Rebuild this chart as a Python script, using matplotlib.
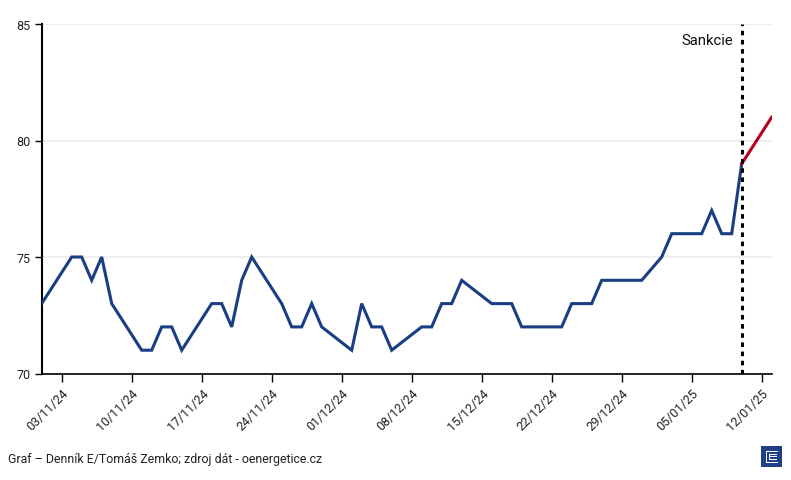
import matplotlib
matplotlib.use('Agg')
import matplotlib.pyplot as plt
import matplotlib.dates as mdates
import pandas as pd
from matplotlib.patches import Rectangle

plt.rcParams['font.family'] = ['Roboto', 'DejaVu Sans']

dates = ['2024-11-01', '2024-11-04', '2024-11-05', '2024-11-06', '2024-11-07', '2024-11-08',
         '2024-11-11', '2024-11-12', '2024-11-13', '2024-11-14', '2024-11-15',
         '2024-11-18', '2024-11-19', '2024-11-20', '2024-11-21', '2024-11-22',
         '2024-11-25', '2024-11-26', '2024-11-27', '2024-11-28', '2024-11-29',
         '2024-12-02', '2024-12-03', '2024-12-04', '2024-12-05', '2024-12-06',
         '2024-12-09', '2024-12-10', '2024-12-11', '2024-12-12', '2024-12-13',
         '2024-12-16', '2024-12-17', '2024-12-18', '2024-12-19', '2024-12-20',
         '2024-12-23', '2024-12-24', '2024-12-26', '2024-12-27', '2024-12-30', '2024-12-31',
         '2025-01-02', '2025-01-03', '2025-01-06', '2025-01-07', '2025-01-08', '2025-01-09', '2025-01-10']
prices = [73, 75, 75, 74, 75, 73,
          71, 71, 72, 72, 71,
          73, 73, 72, 74, 75,
          73, 72, 72, 73, 72,
          71, 73, 72, 72, 71,
          72, 72, 73, 73, 74,
          73, 73, 73, 72, 72,
          72, 73, 73, 74, 74, 74,
          75, 76, 76, 77, 76, 76, 79]
after_dates = ['2025-01-10', '2025-01-13']
after_prices = [79, 81]
sanction_date = '2025-01-10'
source = 'Graf – Denník E/Tomáš Zemko; zdroj dát - oenergetice.cz'

blue = '#1a3e82'
red = '#b5001f'

fig = plt.figure(figsize=(7.91, 4.81), dpi=100)
ax = fig.add_axes([41.7 / 791, 1 - 374.5 / 481, 730 / 791, 349.5 / 481])

ax.plot(pd.to_datetime(dates), prices, color=blue, lw=2.2, solid_joinstyle='miter', zorder=3)
ax.plot(pd.to_datetime(after_dates), after_prices, color=red, lw=2.2, zorder=3)
ax.axvline(pd.Timestamp(sanction_date), color='black', lw=2.2, dashes=(1.5, 1.5), zorder=4)
ax.text(pd.Timestamp('2025-01-09 04:00'), 84.32, 'Sankcie', ha='right', va='center', fontsize=10.7, color='#111111')

ax.set_xlim(pd.Timestamp('2024-11-01'), pd.Timestamp('2025-01-13'))
ax.set_ylim(70, 85)
ax.set_yticks([70, 75, 80, 85])
ax.xaxis.set_major_locator(mdates.WeekdayLocator(byweekday=mdates.SU))
ax.xaxis.set_major_formatter(mdates.DateFormatter('%d/%m/%y'))
ax.grid(axis='y', color='#eeeeee', lw=1.5)
ax.set_axisbelow(True)
ax.spines[['top', 'right']].set_visible(False)
ax.spines['left'].set_linewidth(1.5)
ax.spines['bottom'].set_linewidth(1.2)
ax.tick_params(axis='y', length=5, width=1, labelsize=9, pad=3, labelcolor='#222222')
ax.tick_params(axis='x', length=6, width=1, labelsize=9, pad=3, labelcolor='#222222')
plt.setp(ax.get_xticklabels(), rotation=45, ha='right', rotation_mode='anchor')

fig.text(8 / 791, 1 - 460 / 481, source, fontsize=8.9, va='center', color='#222222')

# logo
logo = fig.add_axes([761 / 791, 1 - 468 / 481, 21 / 791, 21 / 481])
logo.set_xlim(0, 21)
logo.set_ylim(21, 0)
logo.axis('off')
logo.add_patch(Rectangle((0, 0), 21, 21, color='#1f3f87', lw=0))
for x, y, w, h in [(5, 5, 12, 1), (5, 5, 1, 11.5), (5, 15.5, 12, 1), (8, 8, 8, 1),
                   (8, 8, 1, 5.5), (8, 12.5, 8, 1), (8, 10.2, 8, 1)]:
    logo.add_patch(Rectangle((x, y), w, h, color='white', lw=0))

fig.savefig('out.png', dpi=100)
